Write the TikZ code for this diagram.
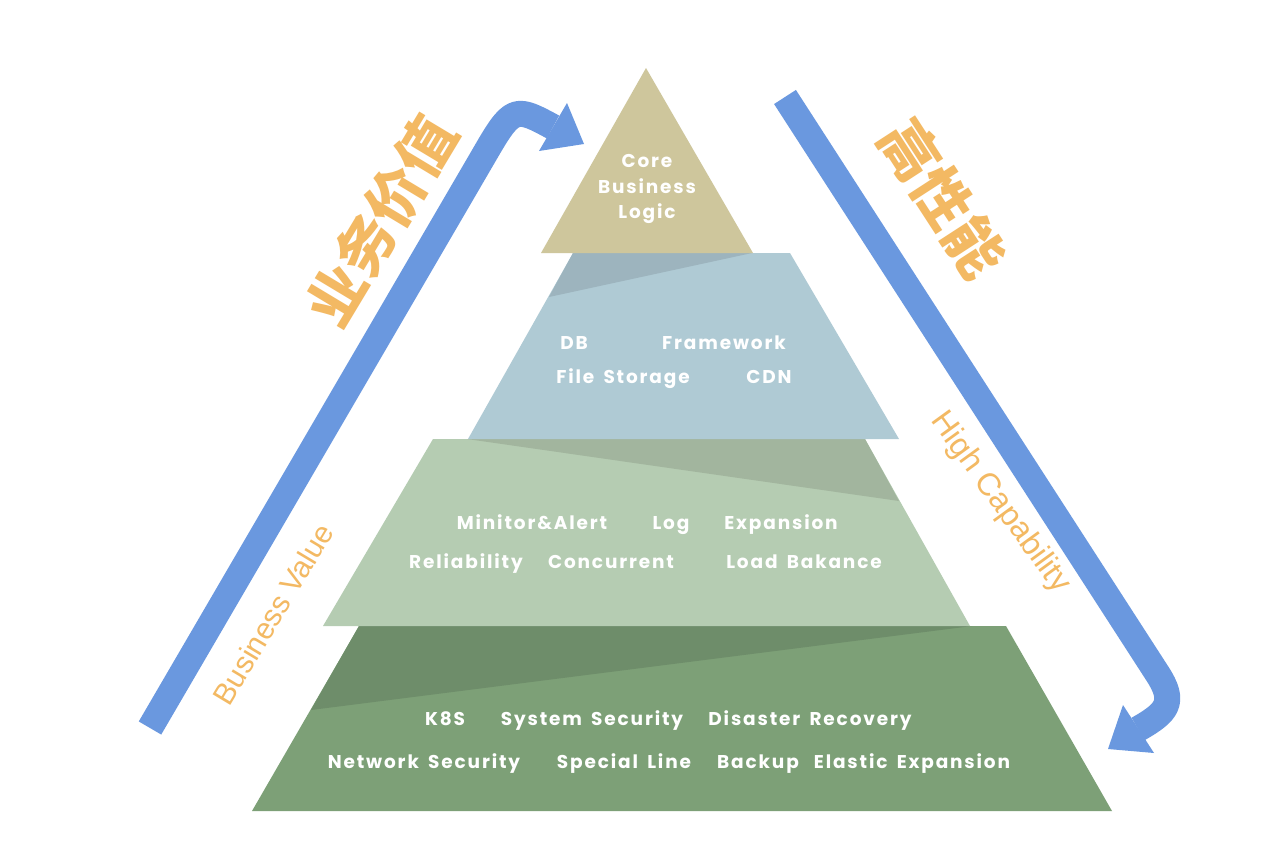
\documentclass[tikz,border=0pt]{standalone}
\usepackage{fontspec}
\newfontfamily\labfont{Poppins}[LetterSpace=10,WordSpace=1.6]
\newfontfamily\cjk{Noto Sans CJK SC}
\newfontfamily\helv{Liberation Sans}
\definecolor{tanc}{HTML}{CEC69C}
\definecolor{lvtwo}{HTML}{AFCAD4}
\definecolor{lvtwos}{HTML}{9DB4BE}
\definecolor{lvthree}{HTML}{B5CCB2}
\definecolor{lvthrees}{HTML}{A2B59E}
\definecolor{lvfour}{HTML}{7DA077}
\definecolor{lvfours}{HTML}{6E8D6A}
\definecolor{arrowblue}{HTML}{6A98DF}
\definecolor{orangec}{HTML}{F3B963}
\begin{document}
\begin{tikzpicture}[x=1pt,y=-1pt,
  lab/.style={text=white,font=\labfont\bfseries\fontsize{18.5}{18.5}\selectfont,anchor=base,inner sep=0pt},
  band/.style={draw=arrowblue,line width=26pt,line join=round},
  cjktext/.style={text=orangec,font=\cjk\bfseries\fontsize{58}{58}\selectfont,inner sep=0pt},
  entext/.style={text=orangec,font=\helv\fontsize{30}{30}\selectfont,inner sep=0pt}]
\useasboundingbox[fill=white] (0,0) rectangle (1262,868);
% level 4
\fill[lvfour] (359,626) -- (1006,626) -- (1112,811) -- (252,811) -- cycle;
\fill[lvfours] (359,626) -- (972,626) -- (311,710) -- cycle;
% level 3
\fill[lvthree] (433,439) -- (865,439) -- (970,626) -- (323,626) -- cycle;
\fill[lvthrees] (467,439) -- (865,439) -- (899,501) -- cycle;
% level 2
\fill[lvtwo] (573,253) -- (790,253) -- (899,439) -- (468,439) -- cycle;
\fill[lvtwos] (573,253) -- (752,253) -- (549,297) -- cycle;
% top
\fill[tanc] (646,68) -- (753,253) -- (541,253) -- cycle;
% labels
\node[lab] (core) at (647,167) {Core};
\node[lab] (bus) at (647,193) {Business};
\node[lab] (logic) at (647,218) {Logic};
\node[lab] (db) at (574,349) {DB};
\node[lab] (fw) at (724,349) {Framework};
\node[lab] (fs) at (623,383) {File Storage};
\node[lab] (cdn) at (769,383) {CDN};
\node[lab] (mon) at (532,529) {Minitor\&Alert};
\node[lab] (log) at (671,529) {Log};
\node[lab] (exp) at (781,529) {Expansion};
\node[lab] (rel) at (466,568) {Reliability};
\node[lab] (con) at (611,568) {Concurrent};
\node[lab] (lb) at (804,568) {Load Bakance};
\node[lab] (k8s) at (445,725) {K8S};
\node[lab] (ss) at (592,725) {System Security};
\node[lab] (dr) at (810,725) {Disaster Recovery};
\node[lab] (ns) at (424,768) {Network Security};
\node[lab] (sl) at (624,768) {Special Line};
\node[lab] (bk) at (758,768) {Backup};
\node[lab] (ee) at (912,768) {Elastic Expansion};
% left arrow
\draw[band] (150,728) -- (490,145) .. controls (513,106) and (518,108) .. (553,127);
\fill[arrowblue] (567,103) -- (584,144) -- (539,151) -- cycle;
% right arrow
\draw[band] (785,97) -- (1157,673) .. controls (1176,702) and (1168,712) .. (1138,729);
\fill[arrowblue] (1123,705) -- (1108,749) -- (1154,753) -- cycle;
% side texts
\node[cjktext,rotate=59] (ywjz) at (381,221) {业务价值};
\node[cjktext,rotate=-57] (gxn) at (943,198) {高性能};
\node[entext,rotate=59] (bv) at (273,614) {Business Value};
\node[entext,font=\helv\fontsize{32}{32}\selectfont,rotate=-54] (hc) at (1000,503) {High Capability};
\end{tikzpicture}
\end{document}
